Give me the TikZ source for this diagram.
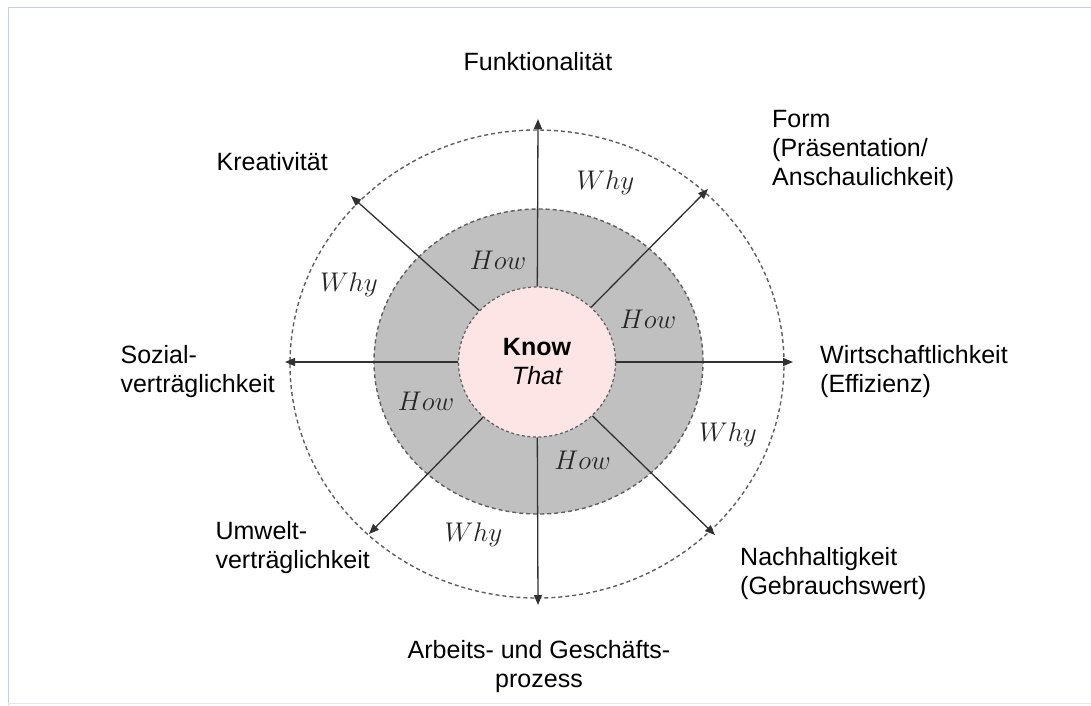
\documentclass[tikz,border=0pt]{standalone}
\usepackage{fix-cm}
\usepackage{fontspec}
\setmainfont{Liberation Sans}
\usetikzlibrary{arrows.meta,shapes.geometric}
\definecolor{ringgray}{RGB}{192,192,192}
\definecolor{pinkfill}{RGB}{253,229,229}
\definecolor{linegray}{RGB}{50,50,50}
\definecolor{dashgray}{RGB}{95,95,95}
\definecolor{framecol}{RGB}{200,208,222}
\begin{document}
\begin{tikzpicture}[x=1pt,y=-1pt,
  lbl/.style={font=\fontsize{25}{29}\selectfont, inner sep=0pt, text=black},
  hw/.style={font=\fontsize{27}{30}\selectfont, inner sep=0pt, text=black!85},
  arr/.style={draw=linegray, line width=1.3pt, -{Triangle[length=10pt,width=8pt]}},
  dsh/.style={draw=dashgray, line width=1.4pt, dash pattern=on 4pt off 3pt},
  ]
\useasboundingbox (0,0) rectangle (1091,705);
\fill[white] (0,0) rectangle (1091,705);
\draw[framecol, line width=1pt] (8,705) -- (8,7) -- (1091,7);
\draw[framecol!50, line width=1pt] (8,703) -- (1091,703);

\node[ellipse, dsh, minimum width=494pt, minimum height=468pt, inner sep=0pt] (outer) at (537,364) {};
\node[ellipse, dsh, fill=ringgray, minimum width=329pt, minimum height=305pt, inner sep=0pt] (ring) at (538.5,361.5) {};
\node[ellipse, draw=dashgray, line width=1.2pt, dash pattern=on 3pt off 2.5pt, fill=pinkfill,
      minimum width=157pt, minimum height=150pt, inner sep=0pt, align=center,
      font=\fontsize{25}{29}\selectfont] (know) at (537,362) {\bfseries Know\\\itshape That};

\coordinate (tN) at (538,119);
\coordinate (tS) at (538,605);
\coordinate (tW) at (285,362);
\coordinate (tE) at (793,362);
\coordinate (tNW) at (351,196);
\coordinate (tNE) at (708,189);
\coordinate (tSW) at (369,534);
\coordinate (tSE) at (715,535);

\foreach \t in {tN,tS,tW,tE,tNW,tNE,tSW,tSE}{
  \draw[arr] (know) -- (\t);
}

\node[lbl] (funk) at (538,62) {Funktionalität};
\node[lbl, anchor=west, align=left] (form) at (772,150) {Form\\(Präsentation/\\Anschaulichkeit)};
\node[lbl, anchor=east] (krea) at (328,162) {Kreativität};
\node[lbl, anchor=east, align=left] (sozial) at (275,371.5) {Sozial-\\verträglichkeit};
\node[lbl, anchor=west, align=left] (wirt) at (820,372) {Wirtschaftlichkeit\\(Effizienz)};
\node[lbl, anchor=east, align=left] (umwelt) at (370,547.5) {Umwelt-\\verträglichkeit};
\node[lbl, anchor=west, align=left] (nach) at (740,573.5) {Nachhaltigkeit\\(Gebrauchswert)};
\node[lbl, align=center] (arbeit) at (539,667) {Arbeits- und Geschäfts-\\prozess};

\node[hw] (how1) at (498,260) {$How$};
\node[hw] (how2) at (648,319) {$How$};
\node[hw] (how3) at (426,401) {$How$};
\node[hw] (how4) at (582.5,460) {$How$};
\node[hw] (why1) at (605.5,183) {$Why$};
\node[hw] (why2) at (349,285) {$Why$};
\node[hw] (why3) at (728,435) {$Why$};
\node[hw] (why4) at (473.5,535) {$Why$};
\end{tikzpicture}
\end{document}
